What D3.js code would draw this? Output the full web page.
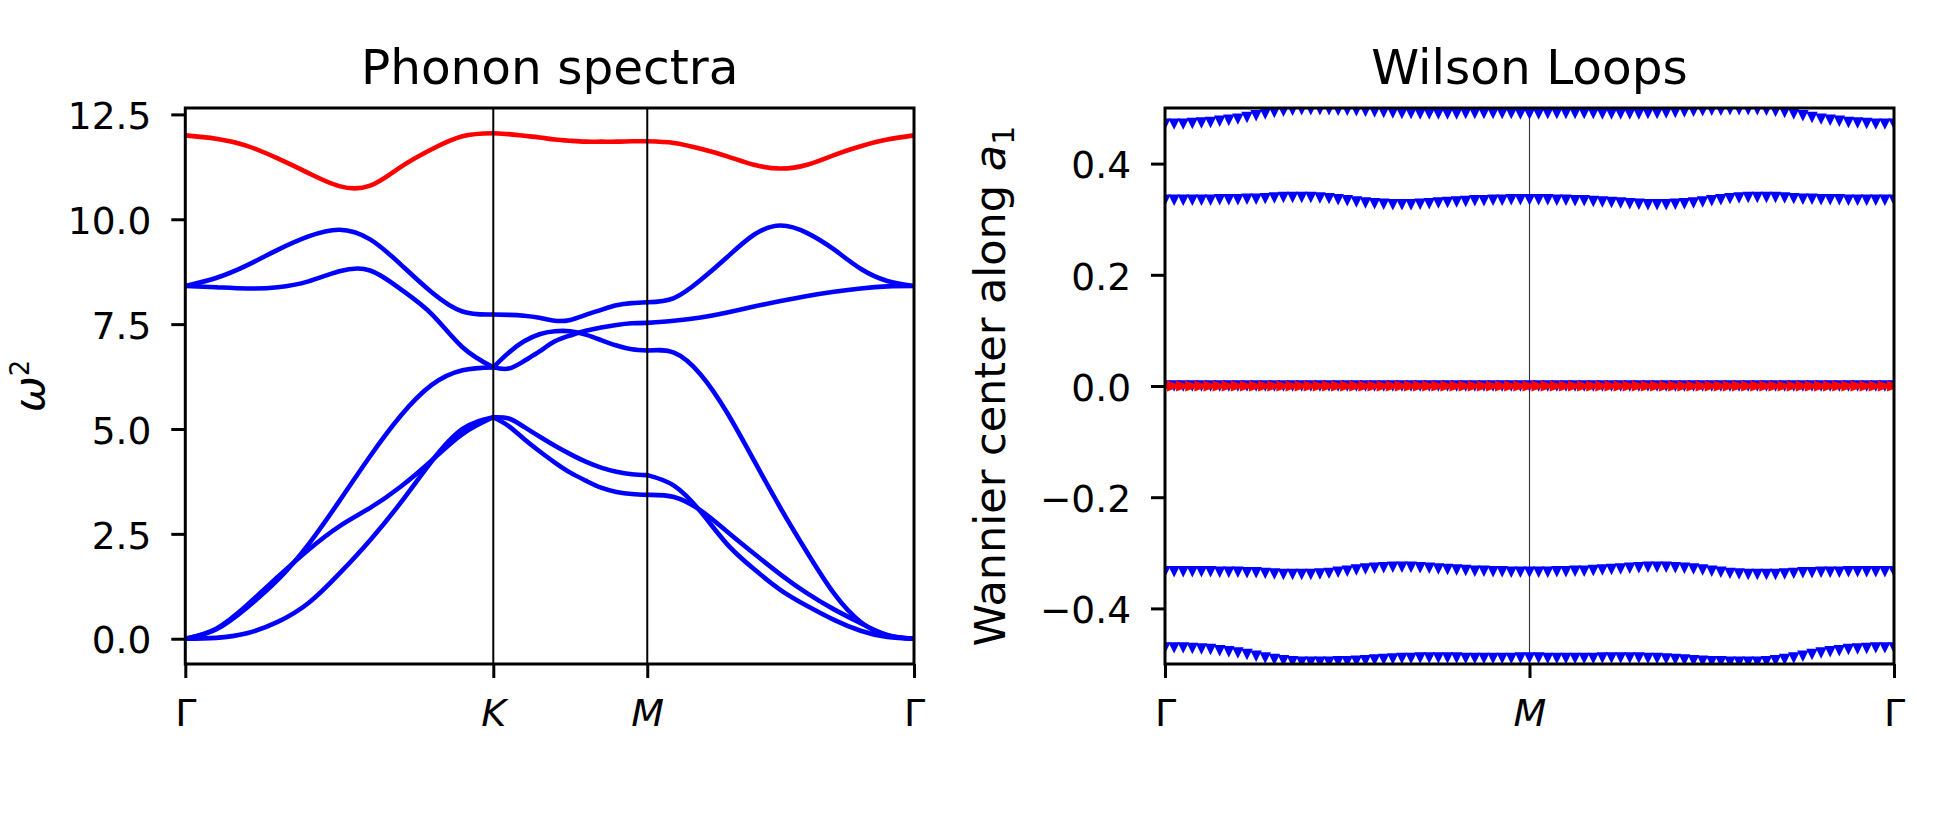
<!DOCTYPE html>
<html><head><meta charset="utf-8">
<script src="https://cdn.jsdelivr.net/npm/d3@7"></script>
<style>
body{margin:0;background:#fff}
text{font-family:"DejaVu Sans",sans-serif;fill:#000}
</style>
</head><body>
<svg id="c" width="1950" height="840"></svg>
<script>
// ---------- Phonon spectra data ----------
const kNodes = [0, 0.6667, 1.0, 1.5774];           // Γ, K, M, Γ path distance
const kLabels = ["Γ", "K", "M", "Γ"];
const tSamples = [0, 0.1, 0.2, 0.3, 0.4, 0.5, 0.6, 0.7, 0.8, 0.9, 1.0];
const phononTicks = [0, 2.5, 5, 7.5, 10, 12.5];

// each band: Γ→K (11), K→M (11), M→Γ (11)
const bandRed = [12.0,11.92,11.75,11.45,11.1,10.79,10.8,11.25,11.67,11.98,12.05,
                 12.05,12.03,11.99,11.95,11.9,11.87,11.85,11.85,11.85,11.86,11.86,
                 11.86,11.82,11.68,11.5,11.3,11.21,11.3,11.53,11.74,11.9,12.0];
const bandB5 = [8.41,8.6,8.9,9.27,9.59,9.75,9.52,8.92,8.26,7.8,7.73,
                7.73,7.72,7.70,7.65,7.58,7.6,7.72,7.84,7.95,8.0,8.02,
                8.02,8.12,8.55,9.1,9.63,9.85,9.67,9.28,8.82,8.53,8.41];
const bandB4 = [8.41,8.38,8.35,8.38,8.52,8.76,8.78,8.33,7.74,6.95,6.47,
                6.47,6.44,6.62,6.85,7.09,7.23,7.34,7.42,7.48,7.52,7.53,
                7.53,7.58,7.66,7.78,7.92,8.05,8.17,8.27,8.35,8.4,8.41];
const bandB3 = [0,0.22,0.74,1.4,2.25,3.28,4.35,5.32,6.05,6.4,6.47,
                6.47,6.82,7.09,7.26,7.33,7.33,7.25,7.12,6.99,6.9,6.87,
                6.87,6.82,6.3,5.38,4.25,3.11,2.05,1.08,0.4,0.08,0];
const bandB2 = [0,0.24,0.8,1.47,2.12,2.68,3.12,3.63,4.25,4.88,5.28,
                5.28,5.25,5.05,4.82,4.6,4.4,4.22,4.08,3.98,3.92,3.9,
                3.9,3.65,3.03,2.25,1.66,1.16,0.78,0.45,0.19,0.04,0];
const bandB1 = [0,0.02,0.13,0.4,0.85,1.55,2.35,3.25,4.23,5.0,5.28,
                5.28,5.07,4.76,4.47,4.2,3.96,3.77,3.6,3.5,3.45,3.43,
                3.43,3.38,3.06,2.55,2.03,1.53,1.08,0.7,0.37,0.09,0];

// ---------- Wilson loop data (81 k-points, Γ → M → Γ) ----------
const wilsonXLabels = ["Γ", "M", "Γ"];
const wilsonXTickIdx = [0, 40, 80];
const wilsonTicks = [-0.4, -0.2, 0, 0.2, 0.4];
const wilsonW1 = [0.471,0.471,0.471,0.472,0.473,0.474,0.476,0.478,0.480,0.483,
0.486,0.489,0.492,0.494,0.496,0.497,0.497,0.497,0.497,0.496,
0.496,0.495,0.494,0.493,0.492,0.491,0.490,0.490,0.489,0.489,
0.489,0.489,0.489,0.490,0.490,0.490,0.490,0.490,0.490,0.489,
0.489,
0.489,0.490,0.490,0.490,0.490,0.490,0.490,0.489,0.489,0.489,
0.489,0.489,0.490,0.490,0.491,0.492,0.493,0.494,0.495,0.496,
0.496,0.497,0.497,0.497,0.497,0.496,0.494,0.492,0.489,0.486,
0.483,0.480,0.478,0.476,0.474,0.473,0.472,0.471,0.471,0.471];
const wilsonW2 = [0.334,0.334,0.334,0.334,0.334,0.334,0.335,0.335,0.335,0.336,
0.336,0.337,0.338,0.339,0.339,0.339,0.339,0.338,0.337,0.335,
0.333,0.331,0.329,0.328,0.327,0.326,0.326,0.326,0.327,0.328,
0.329,0.330,0.331,0.332,0.333,0.333,0.334,0.334,0.335,0.335,
0.335,
0.335,0.335,0.334,0.334,0.333,0.333,0.332,0.331,0.330,0.329,
0.328,0.327,0.326,0.326,0.326,0.327,0.328,0.329,0.331,0.333,
0.335,0.337,0.338,0.339,0.339,0.339,0.339,0.338,0.337,0.336,
0.336,0.335,0.335,0.335,0.334,0.334,0.334,0.334,0.334,0.334];
const wilsonW3 = [0,0,0,0,0,0,0,0,0,0, 0,0,0,0,0,0,0,0,0,0,
0,0,0,0,0,0,0,0,0,0, 0,0,0,0,0,0,0,0,0,0, 0,
0,0,0,0,0,0,0,0,0,0, 0,0,0,0,0,0,0,0,0,0,
0,0,0,0,0,0,0,0,0,0, 0,0,0,0,0,0,0,0,0,0];
const wilsonW4 = [-0.334,-0.334,-0.334,-0.334,-0.334,-0.334,-0.335,-0.335,-0.335,-0.336,
-0.336,-0.337,-0.338,-0.339,-0.339,-0.339,-0.339,-0.338,-0.337,-0.335,
-0.333,-0.331,-0.329,-0.328,-0.327,-0.326,-0.326,-0.326,-0.327,-0.328,
-0.329,-0.330,-0.331,-0.332,-0.333,-0.333,-0.334,-0.334,-0.335,-0.335,
-0.335,
-0.335,-0.335,-0.334,-0.334,-0.333,-0.333,-0.332,-0.331,-0.330,-0.329,
-0.328,-0.327,-0.326,-0.326,-0.326,-0.327,-0.328,-0.329,-0.331,-0.333,
-0.335,-0.337,-0.338,-0.339,-0.339,-0.339,-0.339,-0.338,-0.337,-0.336,
-0.336,-0.335,-0.335,-0.335,-0.334,-0.334,-0.334,-0.334,-0.334,-0.334];
const wilsonW5 = [-0.471,-0.471,-0.471,-0.472,-0.473,-0.474,-0.476,-0.478,-0.480,-0.483,
-0.486,-0.489,-0.492,-0.494,-0.496,-0.497,-0.497,-0.497,-0.497,-0.496,
-0.496,-0.495,-0.494,-0.493,-0.492,-0.491,-0.490,-0.490,-0.489,-0.489,
-0.489,-0.489,-0.489,-0.490,-0.490,-0.490,-0.490,-0.490,-0.490,-0.489,
-0.489,
-0.489,-0.490,-0.490,-0.490,-0.490,-0.490,-0.490,-0.489,-0.489,-0.489,
-0.489,-0.489,-0.490,-0.490,-0.491,-0.492,-0.493,-0.494,-0.495,-0.496,
-0.496,-0.497,-0.497,-0.497,-0.497,-0.496,-0.494,-0.492,-0.489,-0.486,
-0.483,-0.480,-0.478,-0.476,-0.474,-0.473,-0.472,-0.471,-0.471,-0.471];
const wilsonRed = [0,0,0,0,0,0,0,0,0,0, 0,0,0,0,0,0,0,0,0,0,
0,0,0,0,0,0,0,0,0,0, 0,0,0,0,0,0,0,0,0,0, 0,
0,0,0,0,0,0,0,0,0,0, 0,0,0,0,0,0,0,0,0,0,
0,0,0,0,0,0,0,0,0,0, 0,0,0,0,0,0,0,0,0,0];

// ---------- layout ----------
const svg = d3.select("#c");
const TICK_FS = 37.5, TITLE_FS = 48.5, LABEL_FS = 43;
const L = {x0:185.3, x1:914, y0:108, y1:664};
const R = {x0:1165, x1:1894, y0:108, y1:664};

const defs = svg.append("defs");
defs.append("clipPath").attr("id","clipL").append("rect")
  .attr("x",L.x0).attr("y",L.y0).attr("width",L.x1-L.x0).attr("height",L.y1-L.y0);
defs.append("clipPath").attr("id","clipR").append("rect")
  .attr("x",R.x0).attr("y",R.y0).attr("width",R.x1-R.x0).attr("height",R.y1-R.y0);

function styleAxis(g){
  g.select(".domain").remove();
  g.selectAll(".tick line").attr("stroke","#000").attr("stroke-width",3);
  g.selectAll(".tick text").attr("font-size",TICK_FS).attr("font-family","DejaVu Sans").attr("fill","#000");
}

// ---------- LEFT: phonon ----------
const bands = [bandB1, bandB2, bandB3, bandB4, bandB5, bandRed];
const allE = [].concat(...bands);
const ext = d3.extent(allE), mrg = (ext[1]-ext[0])*0.05;
const xL = d3.scaleLinear().domain([kNodes[0], kNodes[kNodes.length-1]]).range([L.x0, L.x1]);
const yL = d3.scaleLinear().domain([ext[0]-mrg, ext[1]+mrg]).range([L.y1, L.y0]);

const gL = svg.append("g");
const lineL = d3.line().x(d=>xL(d.k)).y(d=>yL(d.e)).curve(d3.curveNatural);
const dataL = gL.append("g").attr("clip-path","url(#clipL)");
bands.forEach((b, bi) => {
  const col = (b === bandRed) ? "#ff0000" : "#0000ff";
  for (let s = 0; s < 3; s++) {
    const pts = tSamples.map((t, j) => ({
      k: kNodes[s] + t*(kNodes[s+1]-kNodes[s]),
      e: b[s*tSamples.length + j]
    }));
    dataL.append("path").attr("d", lineL(pts)).attr("fill","none")
      .attr("stroke", col).attr("stroke-width", 4.6).attr("stroke-linejoin","round").attr("stroke-linecap","round");
  }
});
// vertical lines at K and M
[kNodes[1], kNodes[2]].forEach(k => {
  gL.append("line").attr("x1",xL(k)).attr("x2",xL(k)).attr("y1",L.y0).attr("y2",L.y1)
    .attr("stroke","#000").attr("stroke-width",2);
});
const axLy = gL.append("g").attr("transform",`translate(${L.x0},0)`)
  .call(d3.axisLeft(yL).tickValues(phononTicks).tickFormat(d3.format(".1f")).tickSize(14).tickPadding(20));
styleAxis(axLy); axLy.selectAll(".tick text").attr("dy","0.38em");
const axLx = gL.append("g").attr("transform",`translate(0,${L.y1})`)
  .call(d3.axisBottom(xL).tickValues(kNodes).tickFormat((d,i)=>kLabels[i]).tickSize(14).tickPadding(21));
styleAxis(axLx);
axLx.selectAll(".tick text").attr("font-size",38).attr("font-style",(d,i)=>kLabels[i]==="Γ"?"normal":"italic");
gL.append("rect").attr("x",L.x0).attr("y",L.y0).attr("width",L.x1-L.x0).attr("height",L.y1-L.y0)
  .attr("fill","none").attr("stroke","#000").attr("stroke-width",3);
gL.append("text").attr("x",(L.x0+L.x1)/2).attr("y",84).attr("text-anchor","middle")
  .attr("font-size",TITLE_FS).text("Phonon spectra");
const ylx = 44, yly = (L.y0+L.y1)/2;
const ylabL = gL.append("text").attr("x",ylx).attr("y",yly).attr("text-anchor","middle")
  .attr("transform",`rotate(-90,${ylx},${yly})`).attr("font-size",LABEL_FS);
ylabL.append("tspan").attr("font-style","italic").text("ω");
ylabL.append("tspan").attr("font-size",LABEL_FS*0.6).attr("dy",-15).text("2");

// ---------- RIGHT: Wilson loops ----------
const xR = d3.scaleLinear().domain([0, wilsonW1.length-1]).range([R.x0, R.x1]);
const yR = d3.scaleLinear().domain([-0.5, 0.5]).range([R.y1, R.y0]);
const gR = svg.append("g");
gR.append("line").attr("x1",xR(wilsonXTickIdx[1])).attr("x2",xR(wilsonXTickIdx[1]))
  .attr("y1",R.y0).attr("y2",R.y1).attr("stroke","#333").attr("stroke-width",1.1);
const triDown = {draw(ctx, size){ const r=Math.sqrt(size)/2; ctx.moveTo(0,r); ctx.lineTo(-r,-r); ctx.lineTo(r,-r); ctx.closePath(); }};
const triRight = {draw(ctx, size){ const r=Math.sqrt(size)/2; ctx.moveTo(r*1.5,0); ctx.lineTo(-r*1.3,-r); ctx.lineTo(-r*1.3,r); ctx.closePath(); }};
const dataR = gR.append("g").attr("clip-path","url(#clipR)");
const blueSeries = [wilsonW1, wilsonW2, wilsonW3, wilsonW4, wilsonW5];
const symDown = d3.symbol().type(triDown).size(132)();
const symRight = d3.symbol().type(triRight).size(121)();
blueSeries.forEach(s => {
  dataR.append("g").selectAll("path").data(s).join("path")
    .attr("d", symDown).attr("transform",(d,i)=>`translate(${xR(i)},${yR(d)})`).attr("fill","#0000ff");
});
dataR.append("g").selectAll("path").data(wilsonRed).join("path")
  .attr("d", symRight).attr("transform",(d,i)=>`translate(${xR(i)},${yR(d)})`).attr("fill","#ff0000");

const axRy = gR.append("g").attr("transform",`translate(${R.x0},0)`)
  .call(d3.axisLeft(yR).tickValues(wilsonTicks).tickFormat(d3.format(".1f")).tickSize(14).tickPadding(20));
styleAxis(axRy); axRy.selectAll(".tick text").attr("dy","0.38em");
const axRx = gR.append("g").attr("transform",`translate(0,${R.y1})`)
  .call(d3.axisBottom(xR).tickValues(wilsonXTickIdx).tickFormat((d,i)=>wilsonXLabels[i]).tickSize(14).tickPadding(21));
styleAxis(axRx);
axRx.selectAll(".tick text").attr("font-size",38).attr("font-style",(d,i)=>wilsonXLabels[i]==="Γ"?"normal":"italic");
gR.append("rect").attr("x",R.x0).attr("y",R.y0).attr("width",R.x1-R.x0).attr("height",R.y1-R.y0)
  .attr("fill","none").attr("stroke","#000").attr("stroke-width",3);
gR.append("text").attr("x",(R.x0+R.x1)/2).attr("y",84).attr("text-anchor","middle")
  .attr("font-size",TITLE_FS).text("Wilson Loops");
const yrx = 1005, yry = (R.y0+R.y1)/2;
const ylabR = gR.append("text").attr("x",yrx).attr("y",yry).attr("text-anchor","middle")
  .attr("transform",`rotate(-90,${yrx},${yry})`).attr("font-size",LABEL_FS);
ylabR.append("tspan").text("Wannier center along ");
ylabR.append("tspan").attr("font-style","italic").text("a");
ylabR.append("tspan").attr("font-size",LABEL_FS*0.7).attr("dy",9).text("1");
</script>
</body></html>
